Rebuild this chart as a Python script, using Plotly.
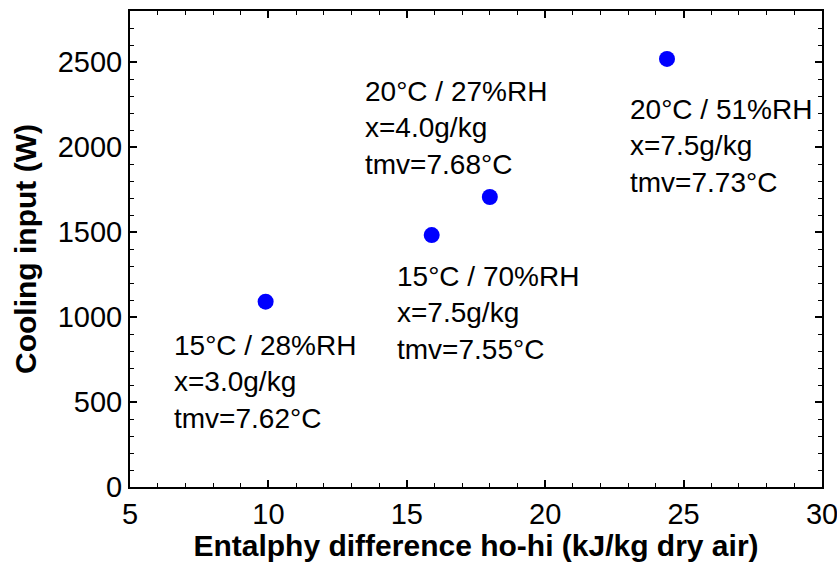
import plotly.graph_objects as go

# Data
enthalpy_diff = [9.9, 15.9, 18.0, 24.4]
cooling_input = [1090, 1482, 1706, 2518]
conditions = ["15°C / 28%RH", "15°C / 70%RH", "20°C / 27%RH", "20°C / 51%RH"]
humidity = ["x=3.0g/kg", "x=7.5g/kg", "x=4.0g/kg", "x=7.5g/kg"]
tmv = ["tmv=7.62°C", "tmv=7.55°C", "tmv=7.68°C", "tmv=7.73°C"]

# label offsets in pixels relative to each point (xshift, yshift)
label_shift_x = [-94, -37, -127, -39]
label_shift_y = [-80, -78, 69, -87]

FONT = "Liberation Sans, Arial, sans-serif"

fig = go.Figure()
fig.add_trace(go.Scatter(
    x=enthalpy_diff, y=cooling_input, mode="markers",
    marker=dict(color="#0000ff", size=16, line=dict(width=0)),
    showlegend=False, hoverinfo="x+y",
))

for i in range(len(enthalpy_diff)):
    fig.add_annotation(
        x=enthalpy_diff[i], y=cooling_input[i],
        text=f"{conditions[i]}<br>{humidity[i]}<br>{tmv[i]}",
        showarrow=False, xanchor="left", yanchor="middle", align="left",
        xshift=label_shift_x[i], yshift=label_shift_y[i],
        font=dict(family=FONT, size=28, color="black"),
    )

axis_common = dict(
    showgrid=False, zeroline=False, automargin=False,
    showline=True, linecolor="black", linewidth=2, mirror="ticks",
    ticks="inside", ticklen=7, tickwidth=1.5, tickcolor="black",
    tickfont=dict(family=FONT, size=29, color="black"),
    ticklabeloverflow="allow",
)

fig.update_xaxes(
    range=[5, 30], tickmode="linear", tick0=5, dtick=5,
    minor=dict(ticks="inside", ticklen=4, tickwidth=1, tickcolor="black", dtick=1, tick0=5),
    title=dict(text="<b>Entalphy difference ho-hi (kJ/kg dry air)</b>",
               font=dict(family=FONT, size=30, color="black"), standoff=0),
    **axis_common,
)
fig.update_yaxes(
    range=[0, 2800], tickmode="linear", tick0=0, dtick=500,
    minor=dict(ticks="inside", ticklen=4, tickwidth=1, tickcolor="black", dtick=100, tick0=0),
    title=dict(text="<b>Cooling input (W)</b>",
               font=dict(family=FONT, size=30, color="black"), standoff=12),
    **axis_common,
)

fig.update_layout(
    width=837, height=562,
    margin=dict(l=130, r=15, t=11, b=75),
    paper_bgcolor="white", plot_bgcolor="white",
)

fig.write_html("out.html")
